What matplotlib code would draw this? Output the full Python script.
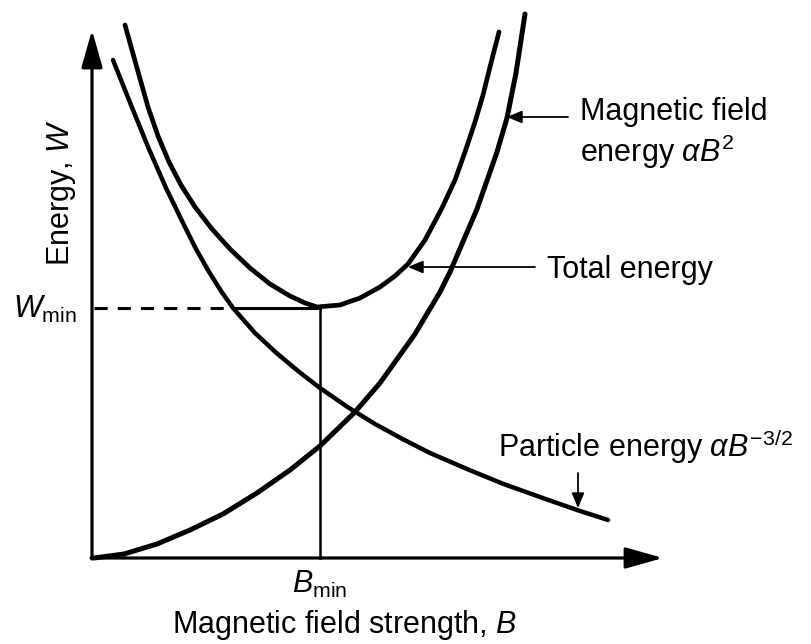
import matplotlib.pyplot as plt

plt.rcParams["font.family"] = ["Liberation Sans", "DejaVu Sans"]
plt.rcParams["mathtext.fontset"] = "custom"
plt.rcParams["mathtext.rm"] = "Liberation Sans"
plt.rcParams["mathtext.it"] = "Liberation Sans:italic"

# curves (arbitrary units)
particle_b = [0.19, 0.37, 0.545, 0.72, 0.90, 1.02, 1.145, 1.27, 1.39, 1.61,
              1.825, 2.04, 2.26, 2.535, 2.81, 3.085, 3.36, 3.73, 4.095, 4.46,
              4.83, 4.985, 5.14]
particle_w = [4.98, 4.53, 4.10, 3.70, 3.33, 3.09, 2.87, 2.67, 2.50, 2.25,
              2.05, 1.87, 1.70, 1.51, 1.34, 1.19, 1.05, 0.89, 0.74, 0.61,
              0.48, 0.43, 0.38]

field_b = [0.00, 0.30, 0.63, 0.96, 1.29, 1.63, 1.96, 2.26, 2.61, 2.86,
           3.21, 3.46, 3.56, 3.83, 4.03, 4.13, 4.22, 4.31]
field_w = [0.00, 0.04, 0.14, 0.28, 0.44, 0.65, 0.88, 1.12, 1.46, 1.75,
           2.24, 2.66, 2.86, 3.49, 4.06, 4.40, 4.85, 5.44]

total_b = [0.31, 0.43, 0.54, 0.64, 0.75, 0.87, 1.01, 1.18, 1.36, 1.56,
           1.76, 1.96, 2.11, 2.23, 2.46, 2.66, 2.86, 3.01, 3.14, 3.31,
           3.48, 3.61, 3.71, 3.81, 3.89, 3.97, 4.05]
total_w = [5.33, 4.90, 4.51, 4.22, 3.96, 3.73, 3.51, 3.29, 3.09, 2.90,
           2.74, 2.62, 2.55, 2.51, 2.53, 2.60, 2.71, 2.82, 2.94, 3.18,
           3.50, 3.78, 4.06, 4.36, 4.63, 4.95, 5.26]

B_MIN = 2.26
W_MIN = 2.50
DASH_END = 1.41

fig = plt.figure(figsize=(8.11, 6.44), dpi=100)
ax = fig.add_axes([0, 0, 1, 1])
ax.set_xlim(-0.94, 7.17)
ax.set_ylim(-0.86, 5.58)
ax.axis("off")

# axes with arrow heads
axis_arrow = dict(arrowstyle="-|>,head_length=2.3,head_width=0.65",
                  lw=2.3, color="k", mutation_scale=10, shrinkA=0, shrinkB=0)
ax.annotate("", xy=(-0.02, 5.28), xytext=(-0.02, -0.01), arrowprops=axis_arrow)
ax.annotate("", xy=(5.69, 0.0), xytext=(-0.03, 0.0), arrowprops=axis_arrow)

# W_min / B_min guides
ax.plot([0, DASH_END], [W_MIN, W_MIN], color="k", lw=2.2, dashes=(4.3, 3.3))
ax.plot([DASH_END, B_MIN], [W_MIN, W_MIN], color="k", lw=2.2)
ax.plot([B_MIN, B_MIN], [0, W_MIN], color="k", lw=1.8)

# the three curves
ax.plot(particle_b, particle_w, color="k", lw=3.2,
        solid_capstyle="round", solid_joinstyle="round")
ax.plot(field_b, field_w, color="k", lw=3.6,
        solid_capstyle="round", solid_joinstyle="round")
ax.plot(total_b, total_w, color="k", lw=3.4,
        solid_capstyle="round", solid_joinstyle="round")

# leader arrows
lead = dict(arrowstyle="-|>,head_length=0.9,head_width=0.38",
            lw=1.3, color="k", mutation_scale=10, shrinkA=0, shrinkB=0)
ax.annotate("", xy=(4.13, 4.41), xytext=(4.74, 4.41), arrowprops=lead)
ax.annotate("", xy=(3.14, 2.91), xytext=(4.41, 2.91), arrowprops=lead)
ax.annotate("", xy=(4.84, 0.50), xytext=(4.84, 0.85), arrowprops=lead)

fs = 22
ax.text(4.86, 4.38, "Magnetic field", fontsize=fs, va="baseline")
ax.text(4.86, 3.96, r"energy $\alpha B^2$", fontsize=fs, va="baseline")
ax.text(4.53, 2.80, "Total energy", fontsize=fs, va="baseline")
ax.text(4.04, 1.01, r"Particle energy $\alpha B^{-3/2}$", fontsize=fs, va="baseline")

ax.text(-0.32, 3.65, r"Energy, $W$", fontsize=fs, rotation=90, ha="center", va="center")
ax.text(-0.81, 2.40, r"$W_{\rm min}$", fontsize=fs, va="baseline")
ax.text(B_MIN, -0.35, r"$B_{\rm min}$", fontsize=fs, ha="center", va="baseline")
ax.text(2.51, -0.75, r"Magnetic field strength, $B$", fontsize=fs, ha="center", va="baseline")

fig.savefig("out.png", dpi=100)
